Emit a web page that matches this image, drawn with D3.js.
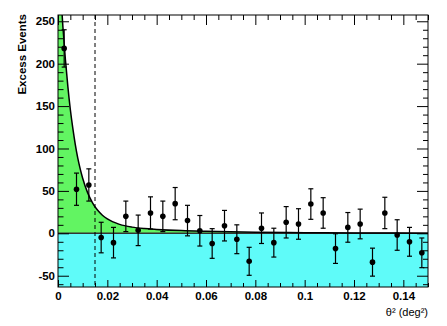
<!DOCTYPE html>
<html><head><meta charset="utf-8">
<script src="https://cdn.jsdelivr.net/npm/d3@7"></script>
<style>
html,body{margin:0;padding:0;background:#fff;}
svg{display:block;}
text{font-family:"Liberation Sans",Arial,Helvetica,sans-serif;}
</style></head>
<body>
<script>
// ---- data ----
const binCenters = [0.0025,0.0075,0.0125,0.0175,0.0225,0.0275,0.0325,0.0375,0.0425,0.0475,
                    0.0525,0.0575,0.0625,0.0675,0.0725,0.0775,0.0825,0.0875,0.0925,0.0975,
                    0.1025,0.1075,0.1125,0.1175,0.1225,0.1275,0.1325,0.1375,0.1425,0.1475];
const excess = [218,52,57,-5,-11,20,3.5,24,20,35,
                15,3,-12,9,-7,-33,6,-11,13,11,
                34.5,24,-18,7,11,-34,24,-2,-10,-23];
const errors = [22,19,19,18,18,18,18,19,18,19,
                18,18,17.5,18,17,16.5,18,17,18.5,18,
                18,18,17.5,17.5,17.5,16.5,18.5,18,17,17.5];
// fitted curve
const curveX = [0,0.001,0.002,0.003,0.004,0.005,0.006,0.007,0.008,0.009,0.010,0.012,0.014,0.016,0.018,0.020,0.025,0.030,0.035,0.040,0.050,0.060,0.070,0.080,0.100,0.120,0.150];
const curveY = [342,288,243,205,173,146,124,105,89,76,65,48,36,27.4,21.3,16.9,10.5,7.3,5.6,4.6,3.2,2.4,1.8,1.3,0.7,0.4,0.15];
const cutValue = 0.015;
const xMajorTicks = [0,0.02,0.04,0.06,0.08,0.10,0.12,0.14];
const xTickLabels = ["0","0.02","0.04","0.06","0.08","0.1","0.12","0.14"];
const xMinorTicks = [0.005,0.01,0.015,0.025,0.03,0.035,0.045,0.05,0.055,0.065,0.07,0.075,0.085,0.09,0.095,0.105,0.11,0.115,0.125,0.13,0.135,0.145,0.15];
const yMajorTicks = [-50,0,50,100,150,200,250];
const yTickLabels = ["-50","0","50","100","150","200","250"];
const yMinorTicks = [-60,-40,-30,-20,-10,10,20,30,40,60,70,80,90,110,120,130,140,160,170,180,190,210,220,230,240];
const yTitle = "Excess Events";
const xTitle = "θ² (deg²)";

// ---- layout ----
const W = 447, H = 326;
const L = 58, R = 428, T = 15, B = 287;
const x = d3.scaleLinear().domain([0, 0.15]).range([L, R]);
const y = d3.scaleLinear().domain([-63.3, 257.4]).range([B, T]);

const svg = d3.select("body").append("svg").attr("width", W).attr("height", H);
svg.append("defs").append("clipPath").attr("id","clip")
  .append("rect").attr("x",L).attr("y",T).attr("width",R-L).attr("height",B-T);

const plot = svg.append("g").attr("clip-path","url(#clip)");

// cyan region below zero
plot.append("rect").attr("x", L).attr("y", y(0)).attr("width", R-L).attr("height", B - y(0))
  .attr("fill", "#5ffbf9");

const curvePts = curveX.map((v,i)=>[v, curveY[i]]);
// green region under fit
plot.append("path").datum(curvePts)
  .attr("d", d3.area().x(d=>x(d[0])).y0(y(0)).y1(d=>y(d[1])).curve(d3.curveMonotoneX))
  .attr("fill", "#62f462");

// zero line
plot.append("line").attr("x1",L).attr("x2",R).attr("y1",y(0)).attr("y2",y(0))
  .attr("stroke","#333").attr("stroke-width",1.5);

// fit curve
plot.append("path").datum(curvePts)
  .attr("d", d3.line().x(d=>x(d[0])).y(d=>y(d[1])).curve(d3.curveMonotoneX))
  .attr("fill","none").attr("stroke","#000").attr("stroke-width",1.5);

// cut line
plot.append("line").attr("x1",x(cutValue)).attr("x2",x(cutValue)).attr("y1",T).attr("y2",B)
  .attr("stroke","#000").attr("stroke-width",1).attr("stroke-dasharray","4,3");

// data points with error bars
const pts = svg.append("g").attr("clip-path","url(#clip)");
binCenters.forEach((c,i)=>{
  const cx = x(c), v = excess[i], e = errors[i];
  pts.append("line").attr("x1",cx).attr("x2",cx).attr("y1",y(v+e)).attr("y2",y(v-e))
    .attr("stroke","#000").attr("stroke-width",1.2);
  [v+e, v-e].forEach(t=>{
    pts.append("line").attr("x1",cx-2.5).attr("x2",cx+2.5).attr("y1",y(t)).attr("y2",y(t))
      .attr("stroke","#000").attr("stroke-width",1.2);
  });
  pts.append("circle").attr("cx",cx).attr("cy",y(v)).attr("r",2.8).attr("fill","#000");
});

// ---- axes (ticks inside) ----
function ax(gen, pos, vals, len, fmt){
  const g = svg.append("g").attr("transform", pos)
    .call(gen.tickValues(vals).tickSize(-len).tickFormat(fmt || ""));
  g.select(".domain").remove();
  g.selectAll("line").attr("stroke","#000").attr("stroke-width",1);
  return g;
}
// bottom
const gb = ax(d3.axisBottom(x), `translate(0,${B})`, xMajorTicks, 7, (d,i)=>xTickLabels[i]);
gb.selectAll("text").attr("y", 5).attr("dy","0.71em").attr("font-size",11.5).attr("font-weight","bold").attr("fill","#000");
ax(d3.axisBottom(x), `translate(0,${B})`, xMinorTicks, 4);
// top
ax(d3.axisTop(x), `translate(0,${T})`, xMajorTicks, 10);
ax(d3.axisTop(x), `translate(0,${T})`, xMinorTicks, 5);
// left
const gl = ax(d3.axisLeft(y), `translate(${L},0)`, yMajorTicks, 11, (d,i)=>yTickLabels[i]);
gl.selectAll("text").attr("x", -3).attr("font-size",11.5).attr("font-weight","bold").attr("fill","#000");
ax(d3.axisLeft(y), `translate(${L},0)`, yMinorTicks, 5.5);
// right
ax(d3.axisRight(y), `translate(${R},0)`, yMajorTicks, 11);
ax(d3.axisRight(y), `translate(${R},0)`, yMinorTicks, 5);

// frame
svg.append("rect").attr("x",L).attr("y",T).attr("width",R-L).attr("height",B-T)
  .attr("fill","none").attr("stroke","#000").attr("stroke-width",1);

// titles
svg.append("text").attr("transform",`translate(26,${T-1}) rotate(-90)`)
  .attr("text-anchor","end").attr("font-size",11.5).attr("font-weight","bold").text(yTitle);
svg.append("text").attr("x",R).attr("y",316).attr("text-anchor","end")
  .attr("font-size",11).text(xTitle);
</script>
</body></html>
